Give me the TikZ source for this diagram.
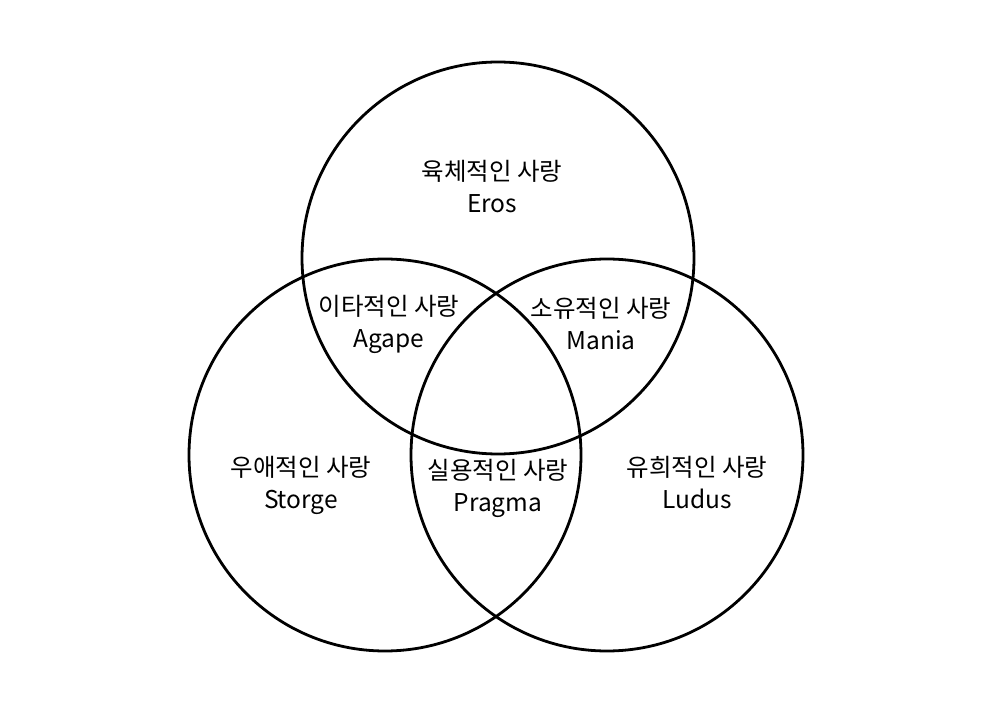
\documentclass[tikz,border=0pt]{standalone}
\usepackage{fontspec}
\setmainfont{Noto Sans CJK KR}
\begin{document}
\begin{tikzpicture}[x=1pt,y=-1pt,
  ring/.style={draw=black,line width=2.8pt,circle,inner sep=0pt,minimum size=392pt},
  lbl/.style={align=center,font=\fontsize{24.5}{32}\selectfont,inner sep=0pt}]
\useasboundingbox (0,0) rectangle (999,727);
\node[ring] (top) at (498,258) {};
\node[ring] (left) at (385,455) {};
\node[ring] (right) at (607,455) {};
\node[lbl] (eros) at (492,187) {육체적인 사랑\\Eros};
\node[lbl] (agape) at (389,324) {이타적인 사랑\\Agape};
\node[lbl] (mania) at (601,324) {소유적인 사랑\\Mania};
\node[lbl] (storge) at (301,485) {우애적인 사랑\\Storge};
\node[lbl] (pragma) at (498,488) {실용적인 사랑\\Pragma};
\node[lbl] (ludus) at (697,483) {유희적인 사랑\\Ludus};
\end{tikzpicture}
\end{document}
